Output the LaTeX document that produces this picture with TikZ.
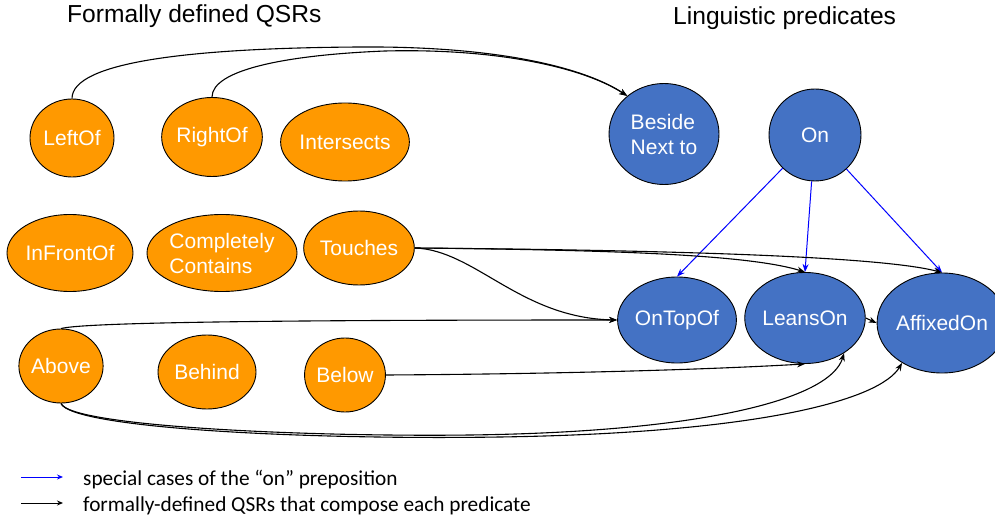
\documentclass[tikz,border=0pt]{standalone}
\usepackage{fontspec}
\setmainfont{Liberation Sans}
\newfontfamily\legfont{Carlito}
\usetikzlibrary{shapes.geometric,arrows.meta}
\definecolor{orng}{RGB}{255,153,0}
\definecolor{blu}{RGB}{68,114,196}
\definecolor{pureblue}{RGB}{0,0,255}
\begin{document}
\begin{tikzpicture}[x=1pt,y=-1pt,
  qsr/.style={ellipse, draw=black, line width=0.9pt, fill=orng, text=white, inner sep=0pt,
    font=\fontsize{21}{25}\selectfont, align=left},
  pred/.style={qsr, fill=blu},
  edge/.style={line width=1.1pt, -{Stealth[length=8pt,width=6pt]}},
  bedge/.style={edge, draw=pureblue, line width=1pt},
  title/.style={font=\fontsize{24.6}{28}\selectfont, anchor=base west, inner sep=0pt},
  leg/.style={font=\legfont\fontsize{21.3}{25}\selectfont, anchor=base west, inner sep=0pt}]
\useasboundingbox (0,0) rectangle (995,521);

\node[title] (t1) at (67,23) {Formally defined QSRs};
\node[title] (t2) at (673,25) {Linguistic predicates};

% QSR nodes
\node[qsr, minimum width=84pt, minimum height=78pt] (leftof) at (72,138) {LeftOf};
\node[qsr, minimum width=91pt, minimum height=79pt] (rightof) at (212,137) {RightOf};
\node[qsr, minimum width=126pt, minimum height=78pt] (inter) at (345,142) {Intersects};
\node[qsr, minimum width=126pt, minimum height=77pt] (infront) at (70,253) {InFrontOf};
\node[qsr, minimum width=150pt, minimum height=77pt] (contains) at (222,253) {Completely\\Contains};
\node[qsr, minimum width=96pt, minimum height=74pt] (touches) at (359,248) {Touches};
\node[qsr, minimum width=84pt, minimum height=74pt] (above) at (61,366) {Above};
\node[qsr, minimum width=98pt, minimum height=74pt] (behind) at (207,372) {Behind};
\node[qsr, minimum width=78pt, minimum height=74pt] (below) at (345,375) {Below};

% predicate nodes
\node[pred, minimum width=110pt, minimum height=101pt] (beside) at (664,134) {Beside\\Next to};
\node[pred, minimum width=92pt, minimum height=92pt] (on) at (815,135) {On};
\node[pred, minimum width=102pt, minimum height=86pt] (ontopof) at (677,320) {OnTopOf};
\node[pred, minimum width=109pt, minimum height=91pt] (leanson) at (805,318) {LeansOn};
\node[pred, minimum width=107pt, minimum height=100pt] (affixed) at (942,323) {AffixedOn};

% Beside edges
\draw[edge] (leftof.north) .. controls (72,62) and (190,48) .. (360,47)
  .. controls (500,46) and (585,68) .. (beside.134);
\draw[edge] (rightof.north) .. controls (212,70) and (285,55) .. (385,51)
  .. controls (505,48) and (588,70) .. (beside.134);

% On special cases
\draw[bedge] (on) -- (ontopof.north);
\draw[bedge] (on) -- (leanson.north);
\draw[bedge] (on) -- (affixed.north);

% Touches
\draw[edge] (touches.east) .. controls (475,250) and (520,318) .. (ontopof.west);
\draw[edge] (touches.east) .. controls (620,250) and (750,255) .. (leanson.north);
\draw[edge] (touches.east) .. controls (660,250) and (880,256) .. (affixed.north);

% Above
\draw[edge] (above.north) .. controls (85,322) and (300,320) .. (ontopof.west);
\draw[edge] (above.south) .. controls (70,426) and (300,437) .. (470,435)
  .. controls (700,432) and (830,400) .. (leanson.-42);
\draw[edge] (above.south) .. controls (72,428) and (300,440) .. (500,437)
  .. controls (760,433) and (880,400) .. (affixed.225);

% Below
\draw[edge] (below.east) .. controls (550,374) and (700,370) .. (leanson.south);

% LeansOn -> AffixedOn
\draw[edge] (leanson.east) -- (affixed.west);

% legend
\coordinate (lb1) at (21,477);
\coordinate (lb2) at (63,477);
\coordinate (lk1) at (21,503);
\coordinate (lk2) at (63,503);
\draw[bedge, -{Stealth[length=6pt,width=5pt]}] (lb1) -- (lb2);
\draw[edge, line width=1pt, -{Stealth[length=6pt,width=5pt]}] (lk1) -- (lk2);
\node[leg] (l1) at (83,485) {special cases of the “on” preposition};
\node[leg] (l2) at (83,511) {formally-defined QSRs that compose each predicate};
\end{tikzpicture}
\end{document}
